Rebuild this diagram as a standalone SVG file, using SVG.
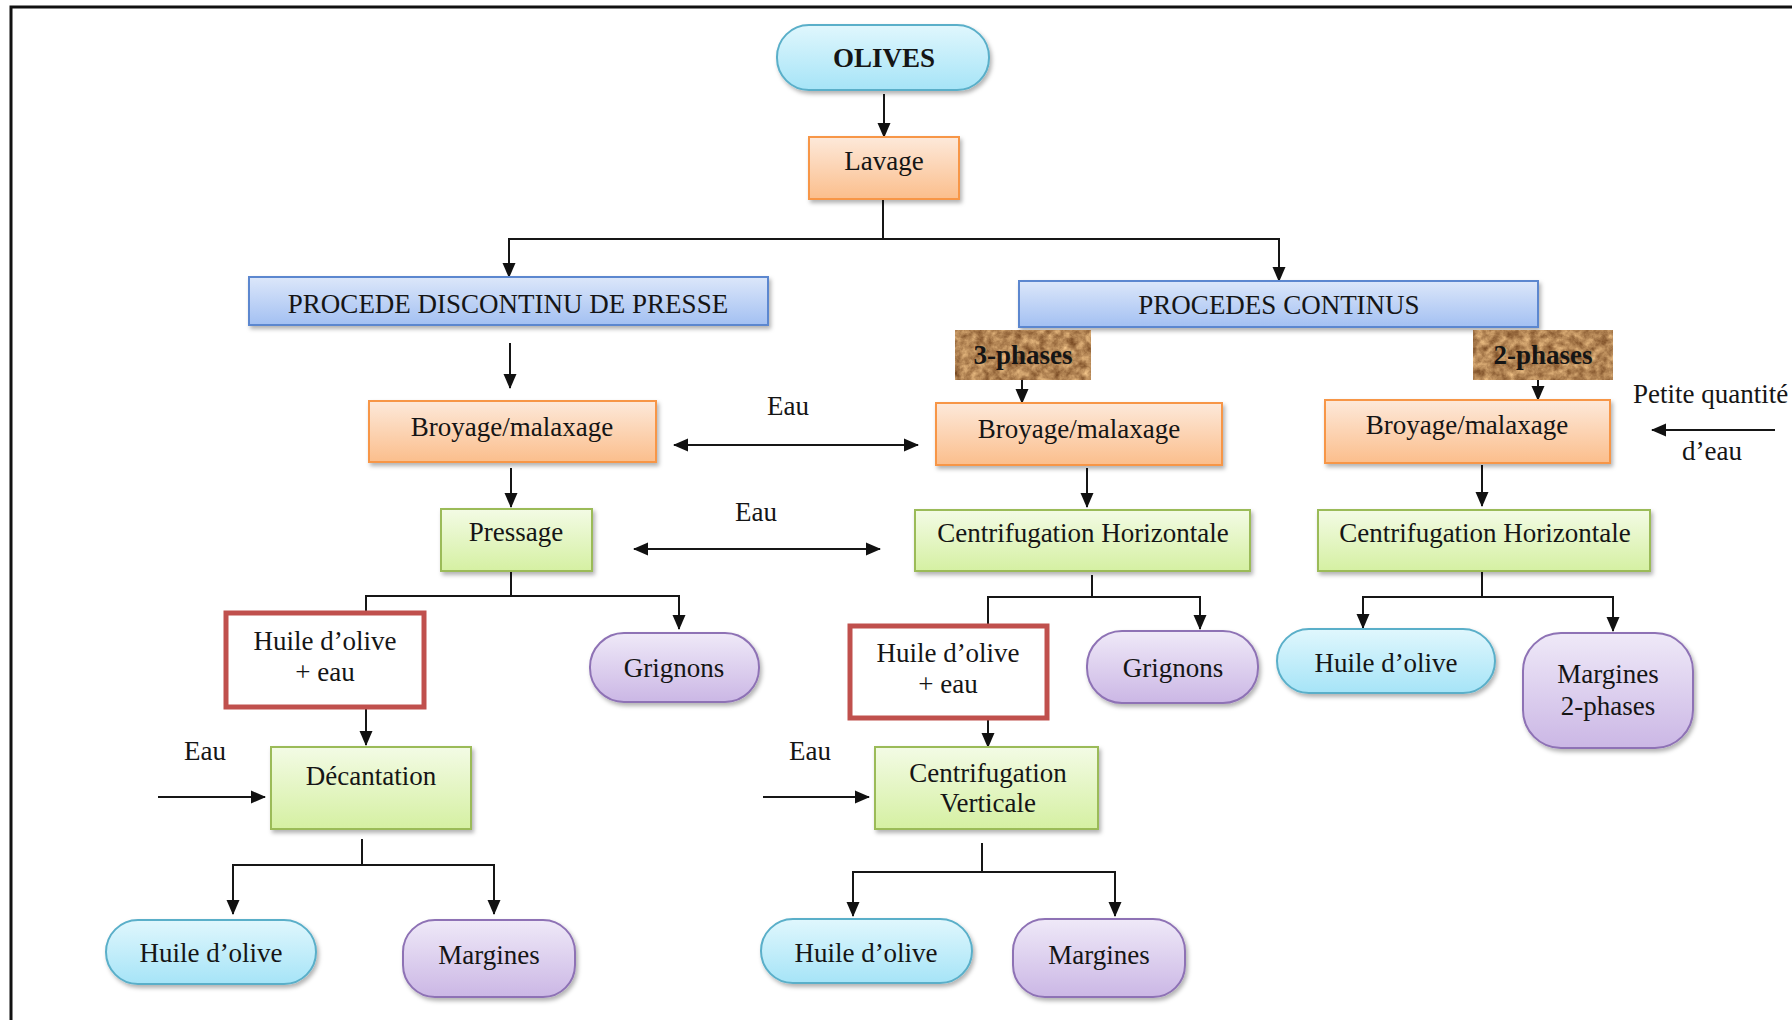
<svg xmlns="http://www.w3.org/2000/svg" width="1792" height="1020" viewBox="0 0 1792 1020">
<defs>
<linearGradient id="gCyan" x1="0" y1="0" x2="0" y2="1"><stop offset="0" stop-color="#E0F7FD"/><stop offset="1" stop-color="#A6E4F7"/></linearGradient>
<linearGradient id="gOrange" x1="0" y1="0" x2="0" y2="1"><stop offset="0" stop-color="#FDE9DA"/><stop offset="1" stop-color="#FBBE8C"/></linearGradient>
<linearGradient id="gBlue" x1="0" y1="0" x2="0" y2="1"><stop offset="0" stop-color="#DCE7FA"/><stop offset="1" stop-color="#A3C0F2"/></linearGradient>
<linearGradient id="gGreen" x1="0" y1="0" x2="0" y2="1"><stop offset="0" stop-color="#F3FBE5"/><stop offset="1" stop-color="#D5F0A2"/></linearGradient>
<linearGradient id="gPurple" x1="0" y1="0" x2="0" y2="1"><stop offset="0" stop-color="#EFE9F8"/><stop offset="1" stop-color="#CBB7E5"/></linearGradient>
<filter id="shadow" x="-10%" y="-10%" width="125%" height="135%">
<feDropShadow dx="2" dy="3" stdDeviation="2" flood-color="#000" flood-opacity="0.3"/>
</filter>
<filter id="cork" x="0" y="0" width="100%" height="100%" color-interpolation-filters="sRGB">
<feTurbulence type="fractalNoise" baseFrequency="0.13" numOctaves="4" seed="11" result="n"/>
<feColorMatrix in="n" type="matrix" values="0.6 0 0 0 0.4  0.6 0 0 0 0.22  0.5 0 0 0 0.08  0 0 0 0 1"/>
</filter>
<marker id="arr" markerUnits="userSpaceOnUse" markerWidth="15" markerHeight="15" viewBox="0 0 15 15" refX="14" refY="7.5" orient="auto-start-reverse">
<path d="M0,1 L15,7.5 L0,14 z" fill="#111"/>
</marker>
<style>
text{font-family:"Liberation Serif","Times New Roman",serif;font-size:27px;fill:#151515;text-anchor:middle}
.b{font-weight:bold}
.st{text-anchor:start}
.cyan{fill:url(#gCyan);stroke:#5AAFC9;stroke-width:2;filter:url(#shadow)}
.orange{fill:url(#gOrange);stroke:#F79646;stroke-width:2;filter:url(#shadow)}
.blue{fill:url(#gBlue);stroke:#5B87CF;stroke-width:2;filter:url(#shadow)}
.green{fill:url(#gGreen);stroke:#9BBB59;stroke-width:2;filter:url(#shadow)}
.purple{fill:url(#gPurple);stroke:#8E72B5;stroke-width:2;filter:url(#shadow)}
.red{fill:#fff;stroke:#C0504D;stroke-width:5}
.c{fill:none;stroke:#161616;stroke-width:2}
.a{marker-end:url(#arr)}
.d{marker-start:url(#arr);marker-end:url(#arr)}
</style>
</defs>
<rect width="1792" height="1020" fill="#fff"/>
<path d="M11,1030 V7 H1800" fill="none" stroke="#111" stroke-width="3"/>

<g id="connectors">
<path class="c a" d="M884,94 V137"/>
<path class="c" d="M883,200 V239"/>
<path class="c a" d="M883,239 H509 V277"/>
<path class="c a" d="M883,239 H1279 V281"/>
<path class="c a" d="M510,343 V388"/>
<path class="c a" d="M1022,380 V403"/>
<path class="c a" d="M1538,380 V400"/>
<path class="c d" d="M674,445 H918"/>
<path class="c a" d="M1775,430 H1652"/>
<path class="c a" d="M511,468 V507"/>
<path class="c d" d="M634,549 H880"/>
<path class="c a" d="M1087,468 V507"/>
<path class="c a" d="M1482,465 V506"/>
<path class="c" d="M511,571 V596 H366 V613"/>
<path class="c a" d="M511,596 H679 V629"/>
<path class="c" d="M1092,575 V597 H988 V626"/>
<path class="c a" d="M1092,597 H1200 V629"/>
<path class="c a" d="M1482,571 V597 H1363 V628"/>
<path class="c a" d="M1482,597 H1613 V631"/>
<path class="c a" d="M366,709 V745"/>
<path class="c a" d="M988,720 V747"/>
<path class="c a" d="M158,797 H265"/>
<path class="c a" d="M763,797 H869"/>
<path class="c" d="M362,839 V865"/>
<path class="c a" d="M362,865 H233 V914"/>
<path class="c a" d="M362,865 H494 V914"/>
<path class="c" d="M982,843 V872"/>
<path class="c a" d="M982,872 H853 V916"/>
<path class="c a" d="M982,872 H1115 V916"/>
</g>

<g id="olives"><rect class="cyan" x="777" y="25" width="212" height="65" rx="32"/><text class="b" x="884" y="67">OLIVES</text></g>
<g id="lavage"><rect class="orange" x="809" y="137" width="150" height="62"/><text x="884" y="170">Lavage</text></g>
<g id="procede-discontinu"><rect class="blue" x="249" y="277" width="519" height="48"/><text x="508" y="313">PROCEDE DISCONTINU DE PRESSE</text></g>
<g id="procedes-continus"><rect class="blue" x="1019" y="281" width="519" height="46"/><text x="1279" y="314">PROCEDES CONTINUS</text></g>
<g id="phases3"><rect x="955" y="330" width="136" height="50" fill="#A97B4E" filter="url(#cork)"/><text class="b" x="1023" y="364">3-phases</text></g>
<g id="phases2"><rect x="1473" y="330" width="140" height="50" fill="#A97B4E" filter="url(#cork)"/><text class="b" x="1543" y="364">2-phases</text></g>
<g id="broyage-presse"><rect class="orange" x="369" y="401" width="287" height="61"/><text x="512" y="436">Broyage/malaxage</text></g>
<g id="broyage-3p"><rect class="orange" x="936" y="403" width="286" height="62"/><text x="1079" y="438">Broyage/malaxage</text></g>
<g id="broyage-2p"><rect class="orange" x="1325" y="400" width="285" height="63"/><text x="1467" y="434">Broyage/malaxage</text></g>
<g id="label-eau-1"><text class="st" x="767" y="415">Eau</text></g>
<g id="label-eau-2"><text class="st" x="735" y="521">Eau</text></g>
<g id="label-petite"><text class="st" x="1633" y="403">Petite quantité</text><text class="st" x="1682" y="460">d’eau</text></g>
<g id="pressage"><rect class="green" x="441" y="509" width="151" height="62"/><text x="516" y="541">Pressage</text></g>
<g id="ch-3p"><rect class="green" x="915" y="510" width="335" height="61"/><text x="1083" y="542">Centrifugation Horizontale</text></g>
<g id="ch-2p"><rect class="green" x="1318" y="510" width="332" height="61"/><text x="1485" y="542">Centrifugation Horizontale</text></g>
<g id="huile-eau-1"><rect class="red" x="226" y="613" width="198" height="94"/><text x="325" y="650">Huile d’olive</text><text x="325" y="681">+ eau</text></g>
<g id="grignons-1"><rect class="purple" x="590" y="633" width="169" height="69" rx="34"/><text x="674" y="677">Grignons</text></g>
<g id="huile-eau-2"><rect class="red" x="850" y="626" width="197" height="92"/><text x="948" y="662">Huile d’olive</text><text x="948" y="693">+ eau</text></g>
<g id="grignons-2"><rect class="purple" x="1087" y="631" width="171" height="72" rx="35"/><text x="1173" y="677">Grignons</text></g>
<g id="huile-3"><rect class="cyan" x="1277" y="629" width="218" height="64" rx="32"/><text x="1386" y="672">Huile d’olive</text></g>
<g id="margines-2p"><rect class="purple" x="1523" y="633" width="170" height="115" rx="38"/><text x="1608" y="683">Margines</text><text x="1608" y="715">2-phases</text></g>
<g id="label-eau-3"><text class="st" x="184" y="760">Eau</text></g>
<g id="decantation"><rect class="green" x="271" y="747" width="200" height="82"/><text x="371" y="785">Décantation</text></g>
<g id="label-eau-4"><text class="st" x="789" y="760">Eau</text></g>
<g id="centrif-verticale"><rect class="green" x="875" y="747" width="223" height="82"/><text x="988" y="782">Centrifugation</text><text x="988" y="812">Verticale</text></g>
<g id="huile-1"><rect class="cyan" x="106" y="920" width="210" height="64" rx="32"/><text x="211" y="962">Huile d’olive</text></g>
<g id="margines-1"><rect class="purple" x="403" y="920" width="172" height="77" rx="32"/><text x="489" y="964">Margines</text></g>
<g id="huile-2"><rect class="cyan" x="761" y="919" width="211" height="64" rx="32"/><text x="866" y="962">Huile d’olive</text></g>
<g id="margines-2"><rect class="purple" x="1013" y="919" width="172" height="78" rx="32"/><text x="1099" y="964">Margines</text></g>
</svg>
